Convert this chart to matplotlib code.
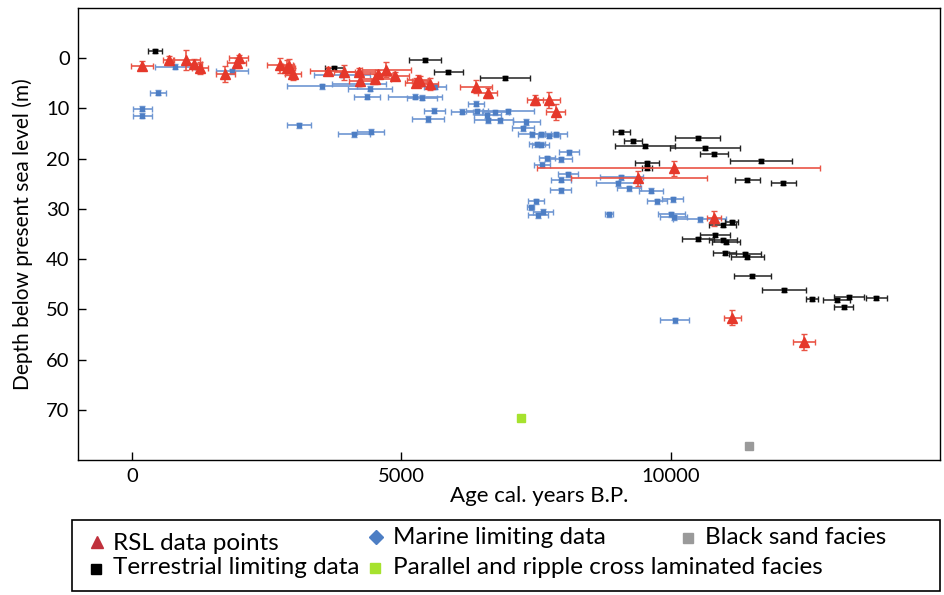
import matplotlib
matplotlib.use("Agg")
import matplotlib.pyplot as plt
from matplotlib.lines import Line2D
from matplotlib.patches import Rectangle

plt.rcParams['font.family'] = ['Lato', 'DejaVu Sans']

# RSL data points (red triangles)
rsl_age = [191, 685, 1012, 1148, 1272, 1735, 1944, 1981, 2747, 2883, 2913, 2994,
           3636, 3944, 4210, 4235, 4512, 4574, 4722, 4889, 5272, 5315, 5352, 5531,
           6389, 6605, 7475, 7741, 7864, 10056, 9395, 10796, 11148, 12475]
rsl_depth = [1.5, 0.4, 0.4, 1.1, 1.9, 3.1, 0.9, -0.1, 1.4, 1.9, 1.6, 3.1,
             2.6, 2.8, 2.7, 4.5, 4.1, 3.2, 2.3, 3.6, 4.9, 4.3, 4.6, 5.1,
             5.7, 6.9, 8.4, 8.4, 10.8, 21.9, 23.9, 31.9, 51.7, 56.5]
rsl_age_lo = [200, 100, 250, 150, 150, 170, 180, 170, 240, 150, 100, 150,
              325, 200, 300, 200, 300, 300, 450, 250, 200, 200, 150, 150,
              300, 180, 150, 200, 170, 2530, 1240, 130, 160, 200]
rsl_age_hi = [200, 100, 250, 150, 150, 170, 180, 170, 240, 150, 100, 150,
              325, 200, 300, 200, 300, 300, 450, 250, 200, 200, 150, 150,
              300, 180, 150, 200, 170, 2720, 1280, 130, 160, 200]
rsl_derr = [0.9, 0.9, 2.0, 1.0, 1.2, 1.6, 1.0, 0.6, 1.5, 1.5, 1.4, 1.2,
            0.8, 1.5, 0.8, 1.0, 1.0, 0.8, 1.5, 0.8, 0.9, 1.0, 1.0, 1.2,
            1.3, 1.0, 1.0, 1.6, 1.6, 1.5, 1.5, 1.5, 1.5, 1.5]

# Marine limiting data (blue)
mar_age = [802, 1858, 481, 191, 191, 3524, 3099, 3895, 4210, 4420, 4358, 5623,
           5259, 5383, 5617, 5500, 6130, 6383, 6401, 6599, 6605, 6827, 6741, 6987,
           7321, 7259, 7420, 7586, 7741, 7877, 7525, 7586, 8111, 7698, 7969, 7617,
           8093, 7969, 9080, 9024, 9222, 7957, 9636, 9747, 10037, 10012, 10056,
           10537, 8852, 7506, 7402, 7630, 7537, 4432, 4117, 10080]
mar_depth = [1.7, 2.6, 6.9, 10.1, 11.5, 5.6, 13.3, 3.3, 5.1, 6.1, 7.7, 5.7,
             7.7, 7.9, 10.5, 12.1, 10.7, 9.1, 10.6, 11.4, 12.4, 12.4, 10.8, 10.6,
             12.7, 13.9, 15.1, 15.1, 15.4, 15.1, 17.1, 17.2, 18.7, 19.9, 20.1, 21.2,
             23.1, 24.2, 23.7, 24.9, 25.9, 26.3, 26.4, 28.5, 28.1, 31.1, 31.7,
             32.1, 31.1, 28.5, 29.7, 30.6, 31.3, 14.6, 15.1, 52.2]
mar_aerr = [370, 300, 150, 175, 175, 650, 220, 520, 500, 400, 240, 200,
            500, 280, 200, 300, 200, 150, 200, 250, 250, 250, 250, 470,
            250, 200, 250, 200, 200, 200, 150, 150, 190, 150, 200, 150,
            190, 190, 400, 400, 220, 190, 220, 190, 190, 250, 250,
            490, 70, 150, 70, 180, 180, 250, 300, 270]

# Terrestrial limiting data (black)
ter_age = [431, 3759, 5436, 5877, 6926, 9087, 9302, 9519, 10500, 10630, 10809,
           11672, 9562, 9562, 11426, 12093, 11135, 10963, 10506, 10827, 10969,
           11024, 11000, 11383, 11426, 11519, 12111, 12630, 13086, 13315, 13821, 13214]
ter_depth = [-1.4, 1.9, 0.4, 2.7, 3.9, 14.7, 16.4, 17.4, 15.9, 17.9, 19.1,
             20.4, 20.9, 21.9, 24.2, 24.9, 32.6, 33.3, 35.9, 35.2, 36.1,
             36.6, 38.7, 38.9, 39.6, 43.4, 46.1, 47.9, 48.1, 47.5, 47.7, 49.5]
ter_aerr = [130, 175, 300, 260, 463, 150, 170, 555, 410, 650, 260,
            577, 220, 90, 230, 230, 120, 250, 300, 280, 260,
            260, 220, 300, 300, 340, 410, 110, 250, 280, 200, 180]

# single facies points
sand_age, sand_depth = [11463], [77.2]
lam_age, lam_depth = [7222], [71.6]

red = '#e5382b'
blue = '#4d7ec4'
green = '#a6e22e'
grey = '#9a9a9a'

W, H = 944, 595
fig = plt.figure(figsize=(W / 100, H / 100), dpi=100)
ax = fig.add_axes([78/W, 135/H, 862/W, 452/H])

ax.errorbar(mar_age, mar_depth, xerr=mar_aerr, yerr=0.5, fmt='s', ms=3.5,
            color=blue, ecolor='#6e96d2', elinewidth=1.2, capsize=2.5, zorder=2)
ax.errorbar(ter_age, ter_depth, xerr=ter_aerr, yerr=0.4, fmt='s', ms=3.5,
            color='black', ecolor='#222222', elinewidth=1.1, capsize=2.5, zorder=3)
ax.errorbar(rsl_age, rsl_depth, xerr=[rsl_age_lo, rsl_age_hi], yerr=rsl_derr,
            fmt='^', ms=6.5, color=red, ecolor='#ea5445', elinewidth=1.2,
            capsize=2.5, zorder=4)
ax.plot(sand_age, sand_depth, 's', ms=6, color=grey)
ax.plot(lam_age, lam_depth, 's', ms=6, color=green)

ax.set_xlim(-1000, 15000)
ax.set_ylim(80, -10)
ax.set_xticks([0, 5000, 10000])
ax.set_yticks(range(0, 71, 10))
ax.tick_params(direction='in', length=6, width=1, labelsize=14.5, pad=6)
for s in ax.spines.values():
    s.set_linewidth(1)
ax.set_xlabel('Age cal. years B.P.', fontsize=16)
ax.xaxis.set_label_coords((539 - 78) / 862, -(486 - 460) / 452)
ax.set_ylabel('Depth below present sea level (m)', fontsize=15)
ax.yaxis.set_label_coords(-(78 - 33) / 862, 0.5)

# legend box drawn by hand to follow the original's staggered layout
fig.add_artist(Rectangle((72/W, 1 - 591/H), 868/W, 71/H, transform=fig.transFigure,
                         fill=False, edgecolor='black', linewidth=1.2))
entries = [
    ('^', '#c0303c', 9, 97, 542, 113, 543, 'RSL data points'),
    ('D', blue, 7, 376, 537, 393, 537, 'Marine limiting data'),
    ('s', grey, 7, 688, 538, 705, 537, 'Black sand facies'),
    ('s', 'black', 7, 96, 569, 113, 568, 'Terrestrial limiting data'),
    ('s', green, 7, 375, 568, 393, 567, 'Parallel and ripple cross laminated facies'),
]
for mk, col, ms, mx, my, tx, ty, lab in entries:
    fig.add_artist(Line2D([mx/W], [1 - my/H], transform=fig.transFigure,
                          ls='none', marker=mk, ms=ms, color=col))
    fig.text(tx/W, 1 - ty/H, lab, fontsize=17.5, va='center', ha='left')

fig.savefig('out.png', dpi=100)
